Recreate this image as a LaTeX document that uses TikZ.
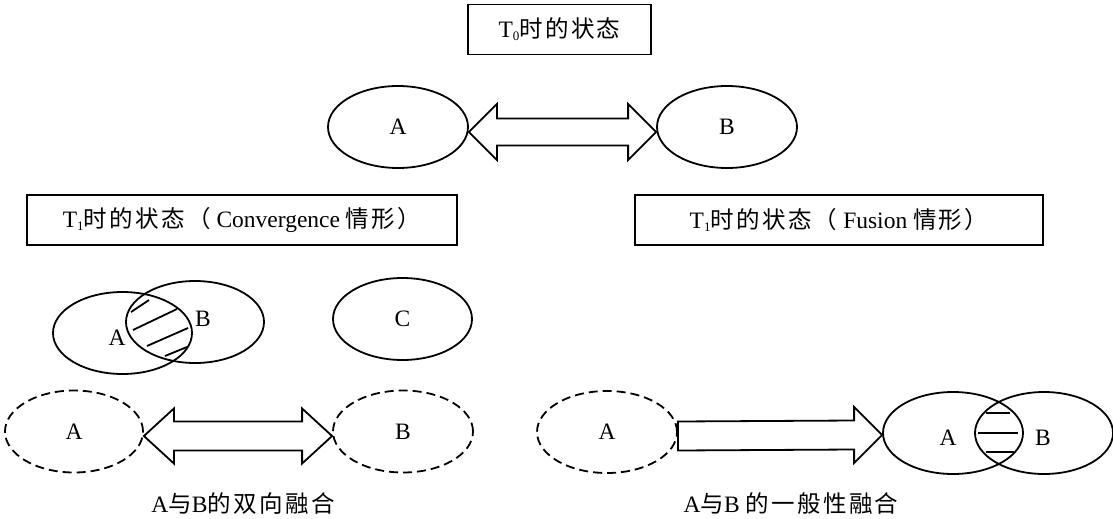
\documentclass[tikz,border=0pt]{standalone}
\usepackage{fontspec}
\setmainfont{Liberation Serif}
\newfontfamily\cjk[LetterSpace=10]{Noto Sans CJK SC}
\usetikzlibrary{calc,shapes.geometric,positioning}
\newcommand\zh[1]{{\cjk #1}}
\newcommand\lowidx[1]{\raisebox{-3pt}{\fontsize{13}{13}\selectfont #1}}
\tikzset{
  box/.style={draw, line width=1.8pt, minimum height=50pt, inner sep=0pt, lab},
  set/.style={draw, ellipse, line width=1.8pt, minimum width=140pt, minimum height=82pt, inner sep=0pt, lab},
  ghost/.style={set, dash pattern=on 9pt off 5pt},
  fat/.style={draw, line width=1.8pt, line join=miter},
  hatch/.style={line width=1.8pt},
  lab/.style={font=\fontsize{23.5}{25}\selectfont},
}
% tips #1 and #2, half shaft #3, half head #4, head length #5
\newcommand\dblarrow[5]{%
  \draw[fat] let \p1=(#1), \p2=(#2) in
    (\p1) -- (\x1+#5,\y1+#4) -- (\x1+#5,\y1+#3) -- (\x2-#5,\y2+#3) -- (\x2-#5,\y2+#4) -- (\p2)
    -- (\x2-#5,\y2-#4) -- (\x2-#5,\y2-#3) -- (\x1+#5,\y1-#3) -- (\x1+#5,\y1-#4) -- cycle;}
% tail #1, tip #2, half shaft #3, half head #4, head length #5
\newcommand\fatarrow[5]{%
  \draw[fat] let \p1=(#1), \p2=(#2) in
    (\x1,\y1+#3) -- (\x2-#5,\y2+#3) -- (\x2-#5,\y2+#4) -- (\p2)
    -- (\x2-#5,\y2-#4) -- (\x2-#5,\y2-#3) -- (\x1,\y1-#3) -- cycle;}
\begin{document}
\begin{tikzpicture}[x=1pt, y=-1pt]
\useasboundingbox (0,0) rectangle (1113,519);

% T0
\node[box, minimum width=183pt] (tzero) at (559.5,29.5) {T\lowidx{0}\zh{时的状态}};
\node[set] (Azero) at (398,127) {A};
\node[set] (Bzero) at (727,127) {B};
\dblarrow{$(Azero.east)+(0,5)$}{$(Bzero.west)+(0,5)$}{13.5pt}{28pt}{28pt}

% T1 convergence
\node[box, minimum width=430pt] (tconv) at (242,220) {T\lowidx{1}\zh{时的状态（} Convergence \zh{情形）}};
\node[set, minimum width=139pt] (Aconv) at (122.5,333) {};
\node[set, minimum width=138pt] (Bconv) at (195,322) {};
\node[lab] (Aconvlab) at (117,338) {A};
\node[lab] (Bconvlab) at (203,319) {B};
\draw[hatch] (131,312) -- (149,300);
\draw[hatch] (133,330) -- (177,309);
\draw[hatch] (147,346) -- (188,328);
\draw[hatch] (165,356) -- (187,347);
\node[set, minimum width=139pt] (Cconv) at (402.5,319) {C};

\node[ghost, minimum width=138pt] (Atwo) at (74,431.5) {A};
\node[ghost] (Btwo) at (403,431.5) {B};
\dblarrow{$(Atwo.east)+(0,4.5)$}{$(Btwo.west)+(0,4.5)$}{14.5pt}{27.5pt}{30pt}
\node[lab] (captwo) at (243,504) {A\zh{与}B\zh{的双向融合}};

% T1 fusion
\node[box, minimum width=408pt] (tfus) at (839,220) {T\lowidx{1}\zh{时的状态（} Fusion \zh{情形）}};
\node[ghost] (Aone) at (607,432) {A};
\node[set] (Afus) at (953,433) {};
\node[set, minimum width=138pt] (Bfus) at (1044,433) {};
\node[lab] (Afuslab) at (948,438) {A};
\node[lab] (Bfuslab) at (1043,438) {B};
\draw[hatch] (986,413) -- (1010,413);
\draw[hatch] (978,433) -- (1018,433);
\draw[hatch] (986,452) -- (1014,452);
\fatarrow{$(Aone.east)+(0,4)$}{$(Afus.west)+(0,2)$}{14.5pt}{28pt}{28pt}
\node[lab] (capone) at (791,504) {A\zh{与}B \zh{的一般性融合}};
\end{tikzpicture}
\end{document}
